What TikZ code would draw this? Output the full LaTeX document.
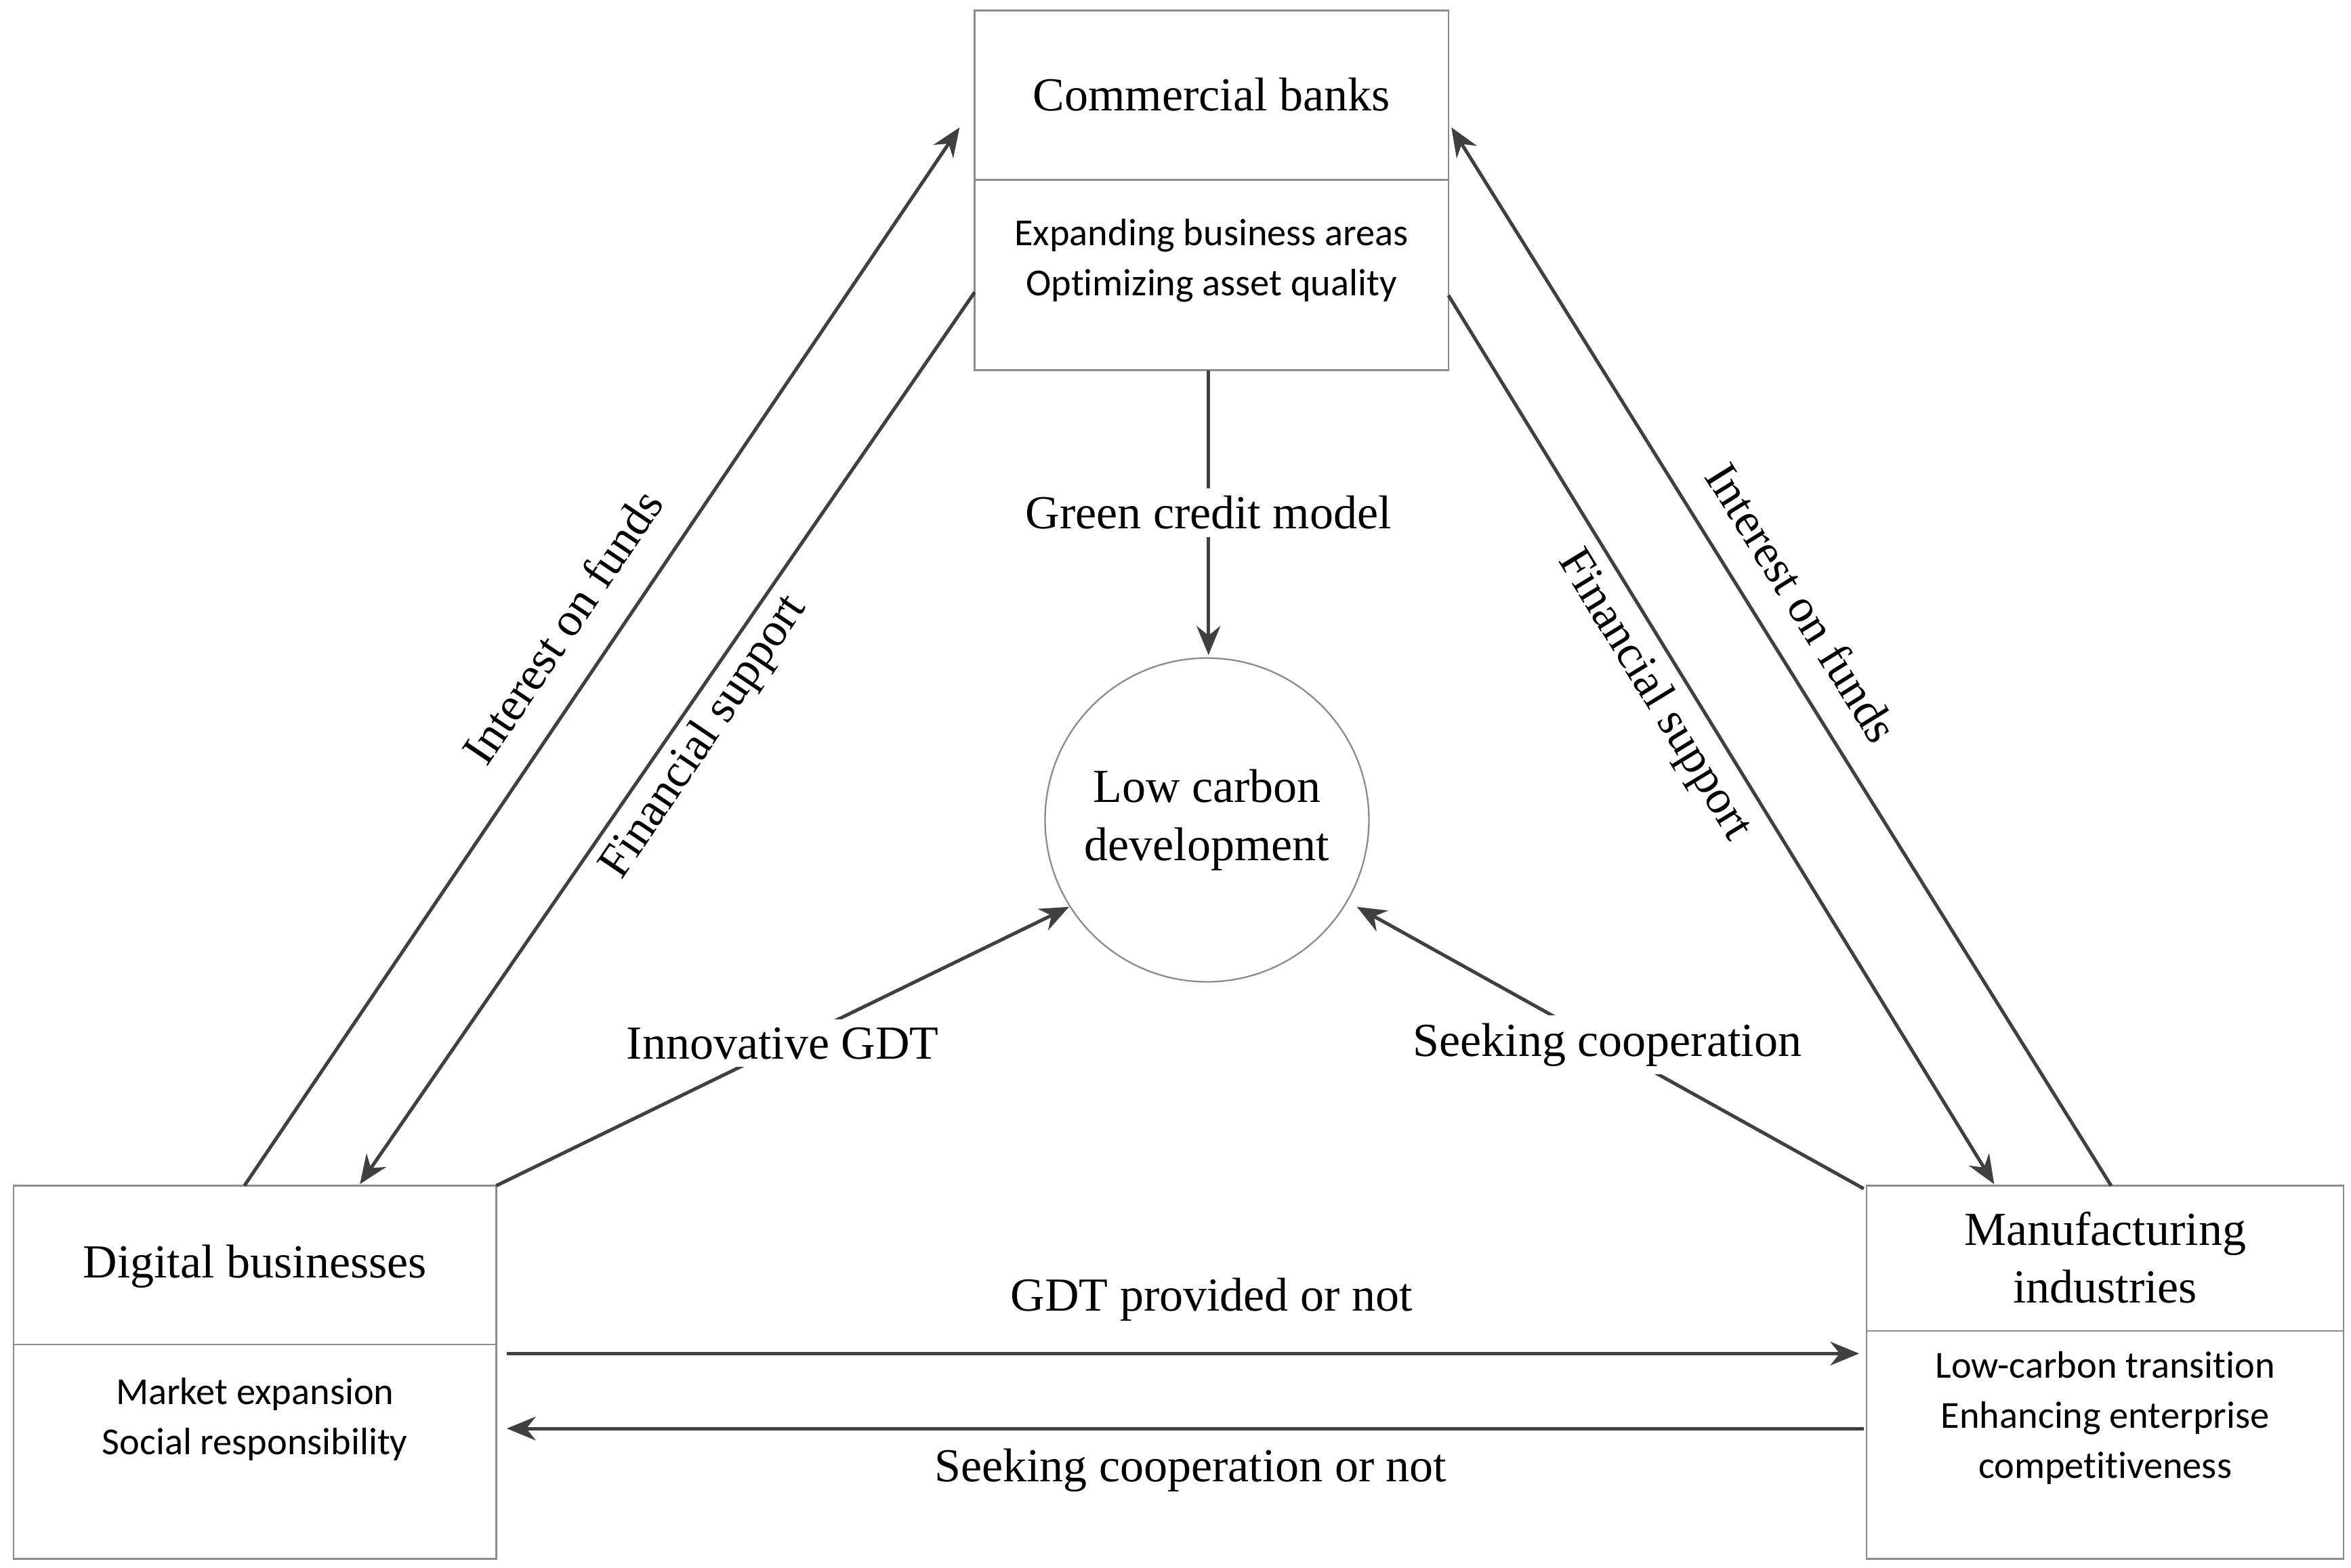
\documentclass[tikz,border=0pt]{standalone}
\usepackage{fontspec}
\setmainfont{Liberation Serif}
\newfontfamily\boxfont[Ligatures=NoCommon]{Carlito}
\usetikzlibrary{arrows.meta}
\begin{document}
\begin{tikzpicture}[x=0.02cm,y=-0.02cm,
  box/.style={draw=black!45,line width=0.6pt},
  conn/.style={draw=black!75,line width=1.3pt,-{Stealth[length=11pt,width=9pt]}},
  lab/.style={font=\fontsize{18}{22}\selectfont},
  inlab/.style={lab,fill=white,inner sep=3pt},
  small/.style={font=\boxfont\fontsize{14.5}{19}\selectfont,align=center}]
\useasboundingbox (0,0) rectangle (1568,1046);
% boxes
\draw[box] (650,7) rectangle (966,247); \draw[box] (650,120) -- (966,120);
\draw[box] (9,791) rectangle (331,1040); \draw[box] (9,897) -- (331,897);
\draw[box] (1245,791) rectangle (1563,1040); \draw[box] (1245,888) -- (1563,888);
\node[lab] (cbt) at (808,63) {Commercial banks};
\node[small] (cbs) at (808,174) {Expanding business areas\\Optimizing asset quality};
\node[lab] (dbt) at (170,845) {Digital businesses};
\node[small] (dbs) at (170,947) {Market expansion\\Social responsibility};
\node[lab,align=center] (mit) at (1404,839) {Manufacturing\\industries};
\node[small] (mis) at (1404,946) {Low-carbon transition\\Enhancing enterprise\\competitiveness};
\node[draw=black!45,line width=0.6pt,circle,minimum size=216*0.02cm,lab,align=center] (lc) at (805,547) {Low carbon\\development};
% coordinates
\coordinate (a1) at (163,791); \coordinate (a2) at (640,85);
\coordinate (b1) at (650,195); \coordinate (b2) at (240,790);
\coordinate (c1) at (966,197); \coordinate (c2) at (1330,790);
\coordinate (d1) at (1408,791); \coordinate (d2) at (968,85);
\coordinate (e1) at (806,247); \coordinate (e2) at (806,437);
\coordinate (f1) at (331,791); \coordinate (f2) at (713,605);
\coordinate (g1) at (1243,793); \coordinate (g2) at (905,605);
\coordinate (h1) at (338,903); \coordinate (h2) at (1240,903);
\coordinate (k1) at (1243,953); \coordinate (k2) at (338,953);
\draw[conn] (a1) -- (a2);
\draw[conn] (b1) -- (b2);
\draw[conn] (c1) -- (c2);
\draw[conn] (d1) -- (d2);
\draw[conn] (e1) -- (e2);
\draw[conn] (f1) -- (f2);
\draw[conn] (g1) -- (g2);
\draw[conn] (h1) -- (h2);
\draw[conn] (k1) -- (k2);
\node[lab,rotate=56] (l1) at (375,418) {Interest on funds};
\node[lab,rotate=56] (l2) at (470,492) {Financial support};
\node[lab,rotate=-58.5] (l3) at (1103,464) {Financial support};
\node[lab,rotate=-58] (l4) at (1202,402) {Interest on funds};
\node[inlab] (l5) at (806,342) {Green credit model};
\node[inlab] (l6) at (522,696) {Innovative GDT};
\node[inlab] (l7) at (1072,697) {Seeking cooperation};
\node[lab] (l8) at (808,867) {GDT provided or not};
\node[lab] (l9) at (794,981) {Seeking cooperation or not};
\end{tikzpicture}
\end{document}
